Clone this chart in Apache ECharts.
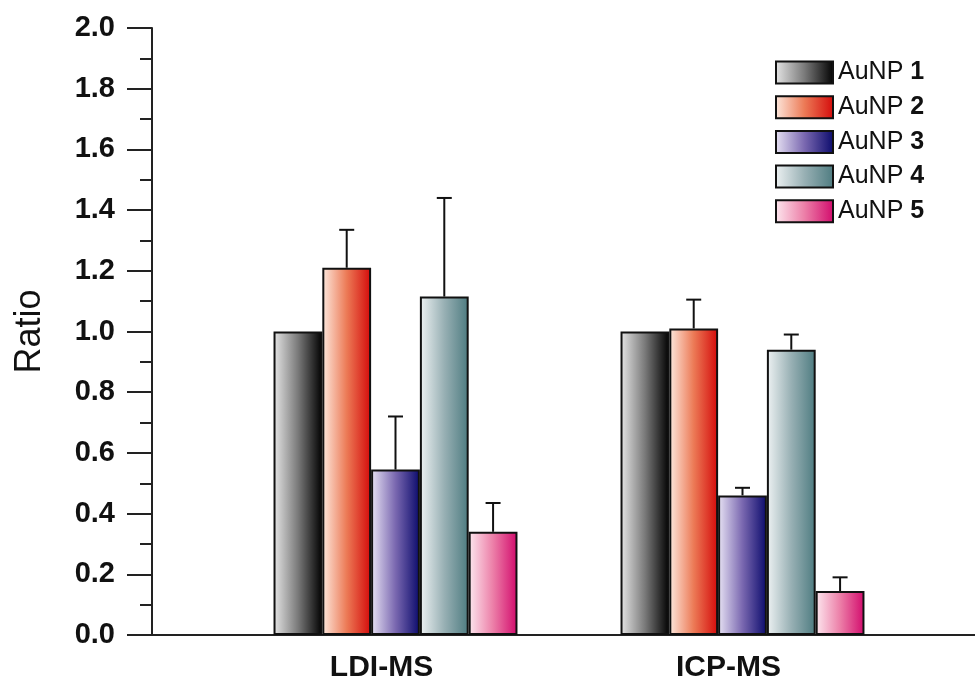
<!DOCTYPE html>
<html>
<head>
<meta charset="utf-8">
<script src="https://cdn.jsdelivr.net/npm/echarts@6/dist/echarts.min.js"></script>
<style>
html,body{margin:0;padding:0;background:#fff;}
#chart{width:975px;height:680px;}
</style>
</head>
<body>
<div id="chart"></div>
<script>
// ---- data ----
var categories = ['LDI-MS', 'ICP-MS'];
var seriesNames = ['AuNP 1', 'AuNP 2', 'AuNP 3', 'AuNP 4', 'AuNP 5'];
var auNP1 = [1.00, 1.00];
var auNP2 = [1.21, 1.01];
var auNP3 = [0.545, 0.46];
var auNP4 = [1.115, 0.94];
var auNP5 = [0.34, 0.145];
var err1 = [0, 0];
var err2 = [0.125, 0.095];
var err3 = [0.175, 0.025];
var err4 = [0.325, 0.05];
var err5 = [0.095, 0.045];
var yTicks = [0, 0.2, 0.4, 0.6, 0.8, 1.0, 1.2, 1.4, 1.6, 1.8, 2.0];

// ---- styles ----
var gradStops = [
  ['#e6e6e6', '#7a7a7a', '#000000'],
  ['#fde9de', '#ec7a56', '#d40a0a'],
  ['#e8e3f4', '#7a68b0', '#0a0a6c'],
  ['#eef2f3', '#98b0b4', '#4d7b80'],
  ['#fde8ef', '#ec7fa8', '#d20a6c']
];
var GAP = 0.297;
var values = [auNP1, auNP2, auNP3, auNP4, auNP5];
var errs = [err1, err2, err3, err4, err5];

function grad(c) {
  return new echarts.graphic.LinearGradient(0, 0, 1, 0, [
    {offset: 0, color: c[0]}, {offset: 0.5, color: c[1]}, {offset: 1, color: c[2]}
  ]);
}

var series = seriesNames.map(function (name, i) {
  return {
    name: name,
    type: 'bar',
    xAxisIndex: 1,
    yAxisIndex: 1,
    data: values[i],
    barGap: '0%',
    barCategoryGap: (GAP * 100) + '%',
    itemStyle: {color: grad(gradStops[i]), borderColor: '#111', borderWidth: 2},
    emphasis: {disabled: true},
    z: 2
  };
});

var errData = [];
errs.forEach(function (e, si) {
  e.forEach(function (v, ci) {
    if (v > 0) errData.push([ci, si, values[si][ci], v]);
  });
});

series.push({
  type: 'custom',
  xAxisIndex: 1,
  yAxisIndex: 1,
  z: 5,
  silent: true,
  data: errData,
  encode: {x: 0, y: 2},
  renderItem: function (params, api) {
    var ci = api.value(0), si = api.value(1), val = api.value(2), er = api.value(3);
    var base = api.coord([ci, val]);
    var top = api.coord([ci, val + er]);
    var band = api.size([1, 0])[0];
    var gw = band * (1 - GAP);
    var bw = gw / seriesNames.length;
    var x = base[0] - gw / 2 + bw * (si + 0.5);
    var st = {stroke: '#111', lineWidth: 2};
    return {
      type: 'group',
      children: [
        {type: 'line', shape: {x1: x, y1: base[1], x2: x, y2: top[1]}, style: st},
        {type: 'line', shape: {x1: x - 7.5, y1: top[1], x2: x + 7.5, y2: top[1]}, style: st}
      ]
    };
  }
});

var chart = echarts.init(document.getElementById('chart'));
chart.setOption({
  backgroundColor: '#ffffff',
  animation: false,
  textStyle: {fontFamily: 'Liberation Sans, Arial, sans-serif'},
  grid: [
    {left: 152, right: 0, top: 28, bottom: 45, containLabel: false, outerBoundsMode: 'none'},
    {left: 222, right: 59, top: 28, bottom: 45, containLabel: false, outerBoundsMode: 'none'}
  ],
  legend: {
    data: seriesNames,
    orient: 'vertical',
    left: 775,
    top: 60,
    padding: 0,
    itemWidth: 57,
    itemHeight: 22,
    itemGap: 9.7,
    icon: 'rect',
    itemStyle: {borderColor: '#111', borderWidth: 2},
    selectedMode: false,
    formatter: function (name) {
      var p = name.split(' ');
      return '{a|' + p[0] + ' }{b|' + p[1] + '}';
    },
    textStyle: {
      lineHeight: 22,
      rich: {
        a: {fontSize: 25, lineHeight: 22, color: '#111', fontFamily: 'Liberation Sans'},
        b: {fontSize: 25, lineHeight: 22, color: '#111', fontWeight: 'bold', fontFamily: 'Liberation Sans'}
      }
    }
  },
  xAxis: [
    {
      type: 'value', gridIndex: 0, min: 0, max: 1,
      axisLine: {show: true, lineStyle: {color: '#222', width: 2}},
      axisTick: {show: false}, axisLabel: {show: false}, splitLine: {show: false}
    },
    {
      type: 'category', gridIndex: 1, data: categories,
      axisLine: {show: false}, axisTick: {show: false}, splitLine: {show: false},
      axisLabel: {
        margin: 18,
        fontSize: 30,
        fontWeight: 'bold',
        color: '#111',
        fontFamily: 'Liberation Sans',
        padding: [0, 28, 0, 0]
      }
    }
  ],
  yAxis: [
    {
      type: 'value', gridIndex: 0, min: yTicks[0], max: yTicks[yTicks.length - 1], interval: 0.2,
      name: 'Ratio',
      nameLocation: 'middle',
      nameGap: 104,
      nameRotate: 90,
      nameTextStyle: {fontSize: 36, color: '#111', fontFamily: 'Liberation Sans'},
      axisLine: {show: true, lineStyle: {color: '#222', width: 2}},
      axisTick: {show: true, inside: false, length: 25, lineStyle: {color: '#222', width: 2}},
      minorTick: {show: true, splitNumber: 2, length: 12, lineStyle: {color: '#222', width: 2}},
      splitLine: {show: false},
      axisLabel: {
        margin: 37, fontSize: 29, fontWeight: 'bold', color: '#111',
        fontFamily: 'Liberation Sans',
        formatter: function (v) { return v.toFixed(1); }
      }
    },
    {
      type: 'value', gridIndex: 1, min: yTicks[0], max: yTicks[yTicks.length - 1], interval: 0.2,
      show: false
    }
  ],
  series: series
});
</script>
</body>
</html>
